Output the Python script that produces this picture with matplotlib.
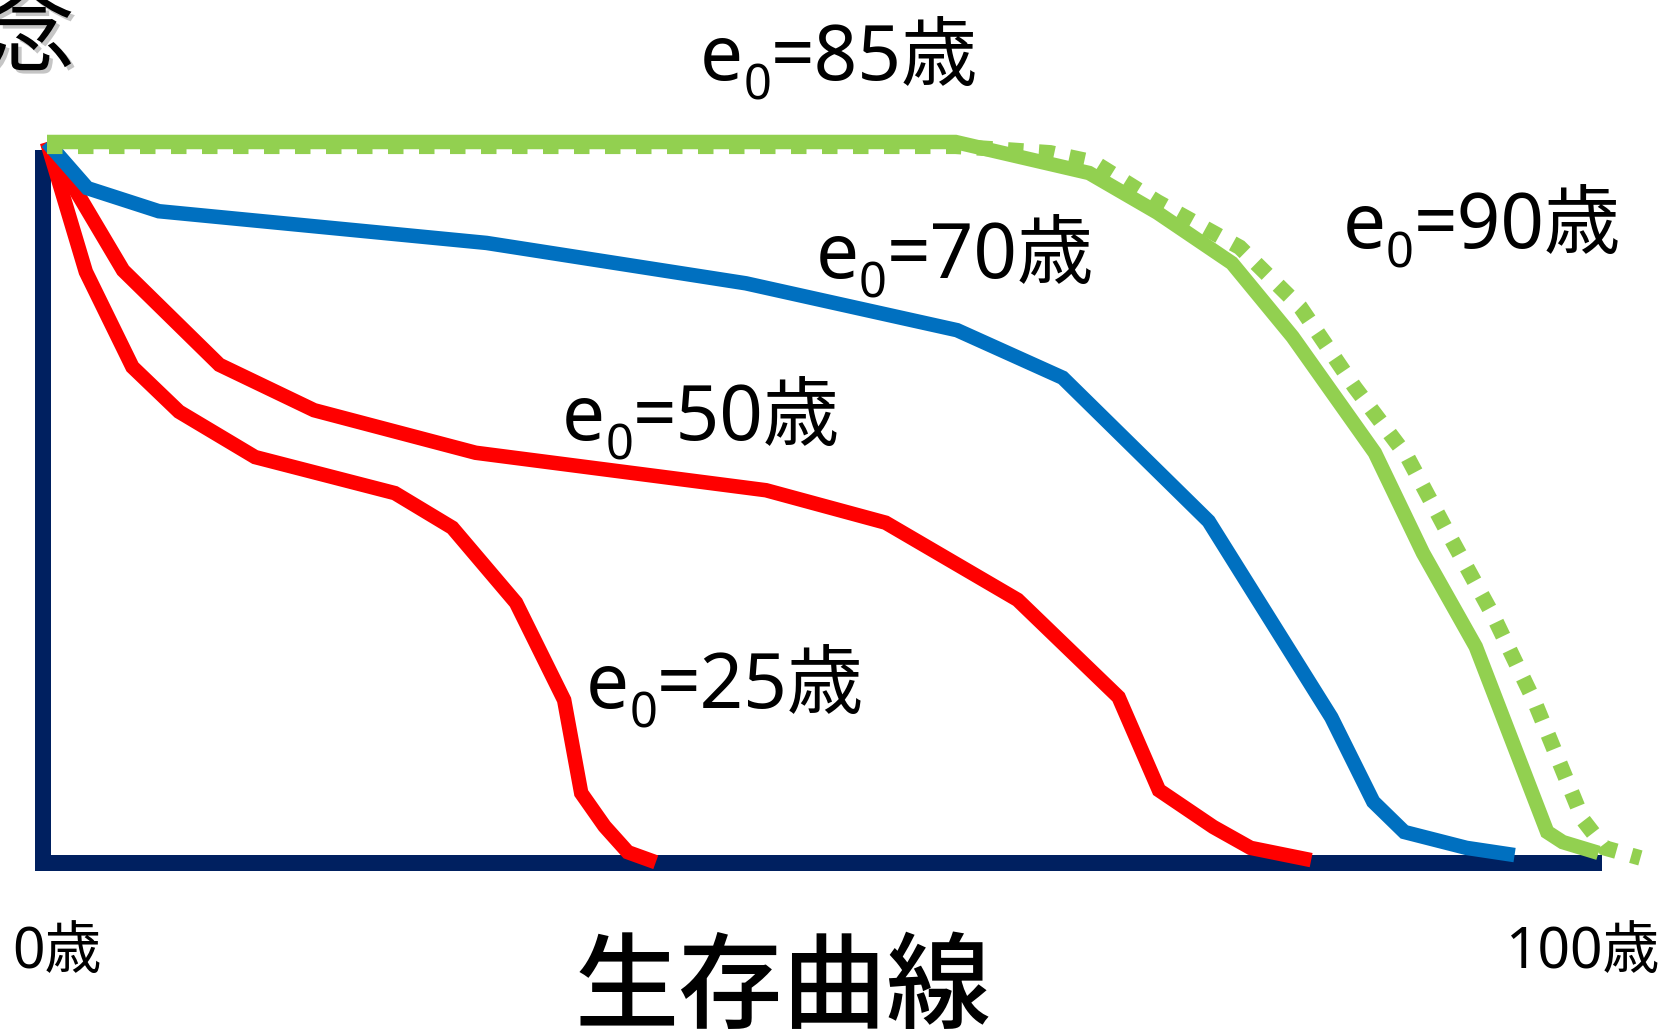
import matplotlib
matplotlib.use('Agg')
import matplotlib.pyplot as plt
import matplotlib.patheffects as pe

# ---- data (age in years, survivors in % of births) ----
age_e25 = [0, 2.5, 5.5, 8.5, 13.4, 22.4, 26.1, 30.2, 33.3, 34.4, 35.9, 37.4, 39.2]
surv_e25 = [100, 82.0, 68.8, 62.6, 56.3, 51.3, 46.5, 36.1, 22.6, 9.7, 5.1, 1.5, 0.1]

age_e50 = [0, 4.9, 11.1, 17.2, 27.6, 46.3, 54.0, 62.5, 69.0, 71.6, 75.1, 77.5, 81.4]
surv_e50 = [100, 82.2, 69.1, 62.8, 56.9, 51.7, 47.2, 36.5, 23.0, 10.1, 5.0, 2.1, 0.4]

age_e70 = [0, 2.6, 7.2, 28.3, 45.0, 58.6, 65.4, 74.8, 82.7, 85.4, 87.4, 91.4, 94.5]
surv_e70 = [100, 93.6, 90.4, 86.0, 80.4, 73.9, 67.3, 47.4, 20.2, 8.5, 4.3, 2.1, 1.1]

age_e85 = [0, 58.5, 62.7, 67.1, 71.5, 76.3, 80.2, 85.5, 88.6, 92.0, 96.6, 97.6, 99.9]
surv_e85 = [100, 100, 97.9, 95.7, 90.2, 83.2, 73.0, 56.9, 43.0, 30.0, 4.3, 2.9, 1.4]

age_e90 = [0, 58.5, 64.6, 67.4, 71.5, 76.8, 80.7, 84.2, 87.6, 90.1, 93.1, 95.8, 98.9, 100.3, 102.6]
surv_e90 = [99.4, 99.4, 98.5, 97.2, 91.7, 85.4, 77.1, 66.0, 56.3, 46.2, 34.4, 22.3, 6.0, 2.1, 0.7]

label_main = ['e', 'e', 'e', 'e', 'e']
label_sub = ['0', '0', '0', '0', '0']
label_rest = ['=25歳', '=50歳', '=70歳', '=85歳', '=90歳']
x_tick_labels = ['0歳', '100歳']
title = '生存曲線'
corner_text = '念'

# ---- figure ----
W, H = 1672, 1036
fig = plt.figure(figsize=(W / 100, H / 100), dpi=100)
fig.patch.set_facecolor('white')

ax = fig.add_axes([47 / W, (H - 863) / H, (1600 - 47) / W, (863 - 142) / H])
ax.set_xlim(0, 100)
ax.set_ylim(0, 100)
ax.set_xticks([])
ax.set_yticks([])
ax.patch.set_alpha(0)
for s in ['top', 'right']:
    ax.spines[s].set_visible(False)
navy = '#002060'
pt = 72 / 100  # points per pixel
ax.spines['left'].set_position(('outward', 4 * pt))
ax.spines['left'].set_bounds(0, 98.9)
ax.spines['bottom'].set_bounds(-0.77, 100.13)
for s in ['left', 'bottom']:
    ax.spines[s].set_color(navy)
    ax.spines[s].set_linewidth(16 * pt)
    ax.spines[s].set_capstyle('butt')

red = '#FF0000'
blue = '#0070C0'
green = '#92D050'
lw = 14.5 * pt
kw = dict(solid_joinstyle='miter', solid_capstyle='butt', clip_on=False)
ax.plot(age_e25, surv_e25, color=red, lw=lw, zorder=3, **kw)
ax.plot(age_e50, surv_e50, color=red, lw=lw, zorder=3, **kw)
ax.plot(age_e70, surv_e70, color=blue, lw=lw, zorder=4, **kw)
ax.plot(age_e90, surv_e90, color=green, lw=15.5 * pt, zorder=5,
        linestyle=(0, (1, 1)), dash_capstyle='butt', dash_joinstyle='miter', clip_on=False)
ax.plot(age_e85, surv_e85, color=green, lw=lw, zorder=6, **kw)

renderer = fig.canvas.get_renderer()
fam = ['Noto Sans', 'Noto Sans CJK JP']


def fx(x):
    return x / W


def fy(y):
    return 1 - y / H


def sub_label(xp, yp, base, sub, rest, size=55):
    t1 = fig.text(fx(xp), fy(yp), base, fontsize=size, family=fam, va='baseline')
    bb = t1.get_window_extent(renderer)
    t2 = fig.text(bb.x1 / W, fy(yp + 20), sub, fontsize=size * 0.64, family=fam, va='baseline')
    bb2 = t2.get_window_extent(renderer)
    fig.text(bb2.x1 / W, fy(yp), rest, fontsize=size, family=fam, va='baseline')


label_pos = [(586, 708), (562, 440), (816, 278), (700, 80), (1343, 248)]
for (xp, yp), b, s, r in zip(label_pos, label_main, label_sub, label_rest):
    sub_label(xp, yp, b, s, r)

fig.text(fx(12), fy(968), x_tick_labels[0], fontsize=41, family=fam, va='baseline')
fig.text(fx(1506), fy(968), x_tick_labels[1], fontsize=41, family=fam, va='baseline')

fig.text(fx(783), fy(1020), title, fontsize=75, family=['Noto Sans CJK JP'],
         fontweight='medium', ha='center', va='baseline')

fig.text(fx(75), fy(64), corner_text, fontsize=66, family=['Noto Sans CJK JP'],
         ha='right', va='baseline',
         path_effects=[pe.withSimplePatchShadow(offset=(2.5, -2.5), shadow_rgbFace='#808080', alpha=0.45)])

fig.savefig('out.png', dpi=100, facecolor='white')
